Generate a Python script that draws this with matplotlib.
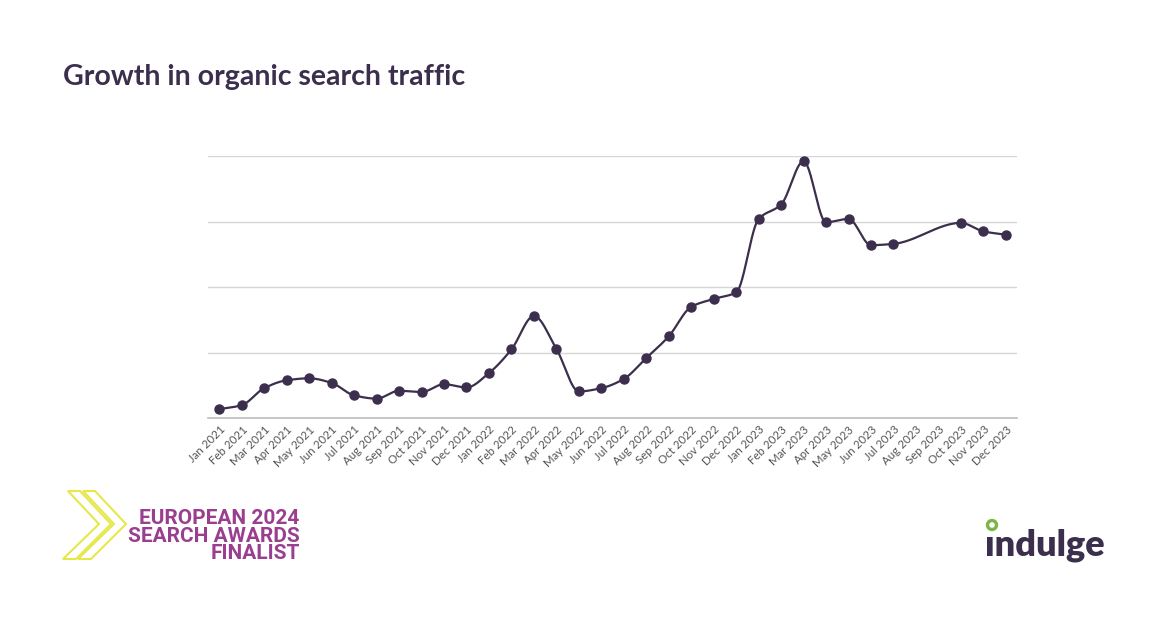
import numpy as np
import matplotlib.pyplot as plt
from matplotlib.patches import Ellipse, Polygon

# Meses mostrados en el eje x
months = ["Jan", "Feb", "Mar", "Apr", "May", "Jun", "Jul", "Aug", "Sep", "Oct", "Nov", "Dec"]
years = [2021, 2022, 2023]
labels = [f"{m} {y}" for y in years for m in months]

# Trafico organico (unidades relativas, sin etiquetas en el eje y); None = sin dato
traffic = [0.14, 0.20, 0.46, 0.58, 0.61, 0.54, 0.35, 0.30, 0.42, 0.40, 0.52, 0.47,
           0.69, 1.05, 1.56, 1.06, 0.41, 0.46, 0.60, 0.92, 1.25, 1.70, 1.82, 1.92,
           3.04, 3.26, 3.92, 2.99, 3.04, 2.64, 2.66, None, None, 2.98, 2.85, 2.80]

dark = "#3b2f4d"

x = np.array([i for i, v in enumerate(traffic) if v is not None], dtype=float)
y = np.array([v for v in traffic if v is not None], dtype=float)


def monotone(xp, yp, n=30):
    # interpolacion cubica monotona (Fritsch-Carlson)
    h = np.diff(xp)
    d = np.diff(yp) / h
    m = np.zeros_like(yp)
    m[0], m[-1] = d[0], d[-1]
    for k in range(1, len(yp) - 1):
        if d[k - 1] * d[k] <= 0:
            m[k] = 0
        else:
            w1 = 2 * h[k] + h[k - 1]
            w2 = h[k] + 2 * h[k - 1]
            m[k] = (w1 + w2) / (w1 / d[k - 1] + w2 / d[k])
    xs, ys = [], []
    for k in range(len(xp) - 1):
        t = np.linspace(0, 1, n)
        h00 = 2 * t**3 - 3 * t**2 + 1
        h10 = t**3 - 2 * t**2 + t
        h01 = -2 * t**3 + 3 * t**2
        h11 = t**3 - t**2
        xs.append(xp[k] + t * h[k])
        ys.append(h00 * yp[k] + h10 * h[k] * m[k] + h01 * yp[k + 1] + h11 * h[k] * m[k + 1])
    return np.concatenate(xs), np.concatenate(ys)


W, H = 1170, 625


def px(xp, yp):
    # pixeles -> coordenadas de figura
    return (xp / W, 1 - yp / H)


fig = plt.figure(figsize=(11.7, 6.25), dpi=100)
fig.patch.set_facecolor("white")
ax = fig.add_axes([0.1778, 0.3307, 0.6915, 0.4197])

xs, ys = monotone(x, y)
ax.plot(xs, ys, color=dark, lw=1.6, zorder=3)
ax.plot(x, y, "o", color=dark, ms=6.5, zorder=4, clip_on=False)

ax.set_xlim(-0.5, len(labels) - 0.5)
ax.set_ylim(0, 4)
ax.set_yticks([0, 1, 2, 3, 4])
ax.set_yticklabels([])
ax.grid(axis="y", color="#d6d6d6", lw=1)
ax.set_axisbelow(True)
for s in ["top", "right", "left"]:
    ax.spines[s].set_visible(False)
ax.spines["bottom"].set_color("#bdbdbd")
ax.spines["bottom"].set_linewidth(1.2)
ax.tick_params(axis="y", length=0)
ax.tick_params(axis="x", length=0, pad=4)
ax.set_xticks(range(len(labels)))
ax.set_xticklabels(labels, rotation=45, ha="right", rotation_mode="anchor",
                   fontsize=8.3, color="#555555", family="Lato")

# Titulo
fig.text(0.054, 0.877, "Growth in organic search traffic", fontsize=20.5, fontweight="bold",
         color=dark, family="Lato", va="center")

# Logo de los premios
yellow = "#e6e84a"
purple = "#9a3f8f"
for off in [0, 15]:
    pts = [(68 + off, 491), (80 + off, 491), (111 + off, 524), (76 + off, 559),
           (63 + off, 559), (99 + off, 524)]
    fig.add_artist(Polygon([px(a, b) for a, b in pts], closed=True, fill=False,
                           edgecolor=yellow, lw=1.5, joinstyle="miter",
                           transform=fig.transFigure))
fig.text(0.256, 0.142, "EUROPEAN 2024\nSEARCH AWARDS\nFINALIST", fontsize=15, fontweight="bold",
         color=purple, family=["Liberation Sans Narrow", "Roboto"], ha="right", va="center",
         linespacing=0.9, multialignment="right", fontstretch="condensed")

# Logo indulge
fig.text(0.842, 0.128, "\u0131ndulge", fontsize=26, fontweight="heavy",
         color=dark, family="Lato", va="center")
fig.add_artist(Ellipse(px(992, 525), 9 / W, 9 / H, transform=fig.transFigure,
                       facecolor="white", edgecolor="#7ab648", lw=2.4))

fig.savefig("out.png", dpi=100, facecolor="white")
